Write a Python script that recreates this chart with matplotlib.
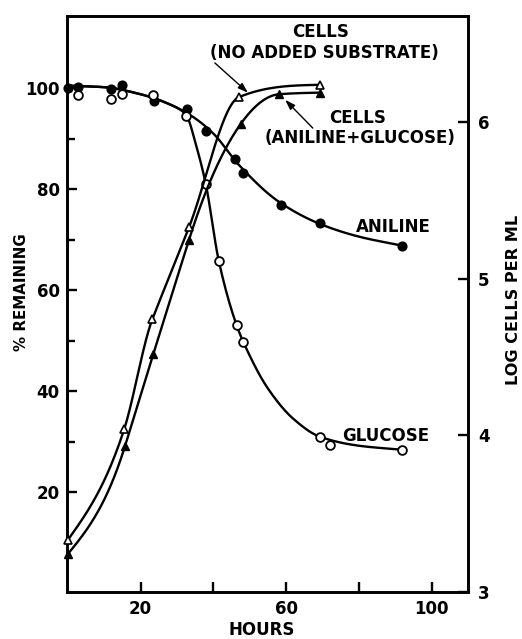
import numpy as np
import matplotlib
matplotlib.use('Agg')
import matplotlib.pyplot as plt

plt.rcParams['font.family'] = ['DejaVu Sans']
plt.rcParams['font.weight'] = 'bold'

aniline_h = [0, 2.9, 11.9, 14.9, 23.7, 32.7, 37.9, 46.0, 48.2, 58.5, 69.2, 91.8]
aniline_pct = [100, 100.2, 99.8, 100.6, 97.4, 95.9, 91.6, 85.9, 83.2, 76.9, 73.4, 68.8]

glucose_h = [2.9, 11.9, 14.9, 23.5, 32.4, 37.9, 41.5, 46.4, 48.0, 69.2, 72.0, 91.9]
glucose_pct = [98.6, 97.9, 98.8, 98.6, 94.4, 81.0, 65.7, 53.1, 49.7, 31.0, 29.4, 28.4]

cells_none_h = [0, 15.5, 23.2, 33.3, 46.9, 69.2]
cells_none_log = [3.33, 4.04, 4.74, 5.33, 6.16, 6.24]

cells_mix_h = [0, 15.7, 23.5, 33.3, 47.5, 58.1, 69.2]
cells_mix_log = [3.24, 3.93, 4.52, 5.25, 5.99, 6.18, 6.19]

# hand drawn fit curves (knots)
aniline_fit_h = [0, 10, 20, 28, 34, 40, 47, 58, 69, 80, 92]
aniline_fit_pct = [100.5, 100.2, 98.8, 96.8, 94.5, 91.0, 84.8, 77.5, 73.2, 70.6, 68.8]

glucose_fit_h = [0, 10, 20, 28, 32.4, 35.5, 37.9, 41.5, 46.4, 49, 55, 62, 69.2, 80, 92]
glucose_fit_pct = [100.5, 100.2, 98.8, 96.8, 94.8, 88.0, 81.0, 65.7, 53.0, 48.5, 40.5, 34.5, 31.0, 29.2, 28.4]


def hermite(x, y, m, xs):
    h = np.diff(x)
    idx = np.clip(np.searchsorted(x, xs) - 1, 0, len(x) - 2)
    t = (xs - x[idx]) / h[idx]
    h00 = 2 * t**3 - 3 * t**2 + 1
    h10 = t**3 - 2 * t**2 + t
    h01 = -2 * t**3 + 3 * t**2
    h11 = t**3 - t**2
    return h00 * y[idx] + h10 * h[idx] * m[idx] + h01 * y[idx + 1] + h11 * h[idx] * m[idx + 1]


def pchip(x, y, xs):
    x = np.asarray(x, float)
    y = np.asarray(y, float)
    h = np.diff(x)
    d = np.diff(y) / h
    m = np.zeros_like(y)
    for k in range(1, len(x) - 1):
        if d[k - 1] * d[k] > 0:
            w1 = 2 * h[k] + h[k - 1]
            w2 = h[k] + 2 * h[k - 1]
            m[k] = (w1 + w2) / (w1 / d[k - 1] + w2 / d[k])
    m[0] = d[0]
    m[-1] = d[-1]
    return hermite(x, y, m, xs)


def akima(x, y, xs):
    # akima slopes, limited so the curve does not overshoot
    x = np.asarray(x, float)
    y = np.asarray(y, float)
    d0 = np.diff(y) / np.diff(x)
    d = np.concatenate([[3 * d0[0] - 2 * d0[1], 2 * d0[0] - d0[1]], d0,
                        [2 * d0[-1] - d0[-2], 3 * d0[-1] - 2 * d0[-2]]])
    m = np.zeros_like(y)
    for i in range(len(x)):
        w1 = abs(d[i + 3] - d[i + 2])
        w2 = abs(d[i + 1] - d[i])
        if w1 + w2 < 1e-12:
            m[i] = 0.5 * (d[i + 1] + d[i + 2])
        else:
            m[i] = (w1 * d[i + 1] + w2 * d[i + 2]) / (w1 + w2)
    for k in range(len(d0)):
        a = m[k] / d0[k]
        b = m[k + 1] / d0[k]
        s = a * a + b * b
        if s > 9:
            tau = 3 / np.sqrt(s)
            m[k] = tau * a * d0[k]
            m[k + 1] = tau * b * d0[k]
    m[0] = max(0, (3 * d0[0] - m[1]) / 2)
    m[-1] = max(0, (3 * d0[-1] - m[-2]) / 2)
    return hermite(x, y, m, xs)


def smooth(xk, yk, func=pchip):
    xs = np.linspace(xk[0], xk[-1], 400)
    return xs, func(xk, yk, xs)


W, H = 522, 639
fig = plt.figure(figsize=(W / 100, H / 100), dpi=100)
ax = fig.add_axes([0.1278, 0.074, 0.7693, 0.901])
ax2 = ax.twinx()

lw = 1.7
ms = 6.3

xs, ys = smooth(aniline_fit_h, aniline_fit_pct)
ax.plot(xs, ys, color='black', lw=lw)
xs, ys = smooth(glucose_fit_h, glucose_fit_pct)
ax.plot(xs, ys, color='black', lw=lw)
ax.plot(aniline_h, aniline_pct, 'o', color='black', ms=ms, clip_on=False, zorder=4)
ax.plot(glucose_h, glucose_pct, 'o', mfc='white', mec='black', mew=1.3, ms=ms, clip_on=False, zorder=5)

xs, ys = smooth(cells_none_h, cells_none_log, akima)
ax2.plot(xs, ys, color='black', lw=lw)
xs, ys = smooth(cells_mix_h, cells_mix_log, akima)
ax2.plot(xs, ys, color='black', lw=lw)
ax2.plot(cells_mix_h, cells_mix_log, '^', color='black', ms=ms, clip_on=False, zorder=4)
ax2.plot(cells_none_h, cells_none_log, '^', mfc='white', mec='black', mew=1.2, ms=ms, clip_on=False, zorder=5)

ax.set_xlim(-0.3, 110)
ax.set_ylim(0.3, 114.3)
ax2.set_ylim(3.01, 6.68)

ax.set_xticks([20, 40, 60, 80, 100])
ax.set_xticklabels(['20', '', '60', '', '100'])
ax.set_yticks([20, 40, 60, 80, 100])
ax.set_yticks([30, 50, 70, 90], minor=True)
ax2.set_yticks([3, 4, 5, 6])

for a in (ax, ax2):
    for s in a.spines.values():
        s.set_linewidth(1.9)
    a.tick_params(which='both', direction='in', width=1.7, labelsize=12)
    a.tick_params(which='major', length=7)
    a.tick_params(which='minor', length=6)
ax.tick_params(axis='x', pad=6)
ax.tick_params(axis='y', pad=5)
ax2.tick_params(axis='y', pad=7)

fig.text(261.7 / W, 1 - 630 / H, 'HOURS', fontsize=12, fontweight='bold', ha='center', va='center')
fig.text(22 / W, 1 - 292 / H, '% REMAINING', fontsize=10.8, fontweight='bold',
         ha='center', va='center', rotation=90)
fig.text(513 / W, 1 - 300 / H, 'LOG CELLS PER ML', fontsize=11.6, fontweight='bold',
         ha='center', va='center', rotation=90)

tk = dict(fontsize=12, fontweight='bold', ha='center', va='center')
ax.text(69.5, 111.2, 'CELLS', **tk)
ax.text(70.5, 106.9, '(NO ADDED SUBSTRATE)', **tk)
ax.text(79.7, 94.1, 'CELLS', **tk)
ax.text(80.2, 90.1, '(ANILINE+GLUCOSE)', **tk)
ax.text(89.5, 72.6, 'ANILINE', **tk)
ax.text(87.4, 31.2, 'GLUCOSE', **tk)

arrow = dict(arrowstyle='-|>,head_length=0.6,head_width=0.2', color='black', lw=1.0, shrinkA=0, shrinkB=0)
ax.annotate('', xy=(49.5, 99.1), xytext=(40.4, 105.0), arrowprops=arrow)
ax.annotate('', xy=(59.7, 97.7), xytext=(67.3, 92.1), arrowprops=arrow)

fig.savefig('out.png', dpi=100)
